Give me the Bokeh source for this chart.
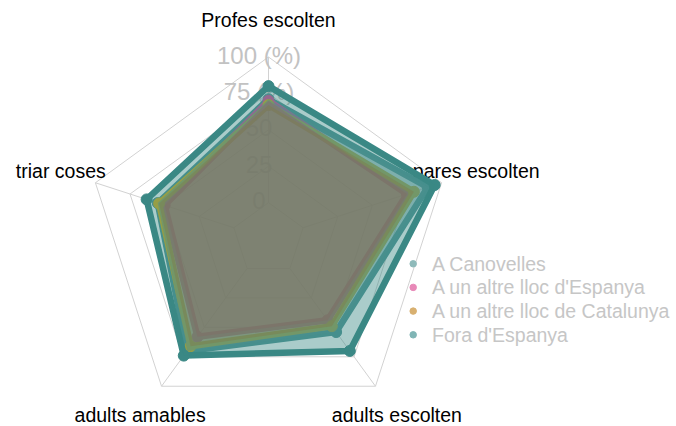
import numpy as np
from bokeh.plotting import figure
from bokeh.models import Range1d
from bokeh.core.properties import value
from bokeh.embed import file_html
from bokeh.resources import INLINE

# ---------------- data ----------------
axis_labels = ["Profes escolten", "pares escolten", "adults escolten",
               "adults amables", "triar coses"]
groups = ["A Canovelles", "A un altre lloc d'Espanya",
          "A un altre lloc de Catalunya", "Fora d'Espanya"]
canovelles = [71, 90, 54, 70, 55]
altre_espanya = [70, 75, 44, 58, 50]
altre_catalunya = [67, 80, 49, 66, 54]
fora_espanya = [80, 95, 70, 74, 63]
grid_values = [0, 25, 50, 75, 100]
grid_labels = ["0", "25", "50", "75 (%)", "100 (%)"]

series = [canovelles, altre_espanya, altre_catalunya, fora_espanya]

# ---------------- style ----------------
W, H = 676, 426
line_colors = ["#4f9494", "#dc5096", "#dcae18", "#3a8885"]
fill_colors = ["#5a9595", "#b94178", "#af7328", "#3a8885"]
fill_alphas = [0.48, 0.5, 0.5, 0.43]
legend_colors = ["#8fbaba", "#e889b8", "#d8b070", "#80b5b5"]
FONT = "Liberation Sans"

CX, CY, R = 268.0, 238.5, 182.0
CENTRE, GMAX = -25.0, 100.0
LABEL_R = 1.2 * R
n = len(axis_labels)
theta = np.pi / 2 - np.arange(n) * 2 * np.pi / n


def rad(v):
    return (np.asarray(v, dtype=float) - CENTRE) / (GMAX - CENTRE) * R


def to_xy(vals):
    r = rad(vals)
    return CX + r * np.cos(theta), CY - r * np.sin(theta)


p = figure(width=W, height=H, output_backend="svg", toolbar_location=None,
           x_range=Range1d(0, W), y_range=Range1d(H, 0),
           x_axis_location=None, y_axis_location=None, min_border=0,
           outline_line_color=None, background_fill_color="white")
p.grid.visible = False

GRID_COLOR = "#d2d2d2"
# grid pentagons
for g in grid_values:
    gx, gy = to_xy([g] * n)
    p.line(list(gx) + [gx[0]], list(gy) + [gy[0]], line_color=GRID_COLOR,
           line_width=1)
# spokes
x0, y0 = to_xy([grid_values[0]] * n)
x1, y1 = to_xy([grid_values[-1]] * n)
p.segment(x0, y0, x1, y1, line_color=GRID_COLOR, line_width=1)

# axis labels
lx = CX + LABEL_R * np.cos(theta)
ly = CY - LABEL_R * np.sin(theta) - 1
p.text(lx, ly, text=axis_labels, text_align="center", text_baseline="middle",
       text_font=value(FONT), text_font_size="19.5px", text_color="black")

# grid labels
glx = [CX - 9.5] * len(grid_values)
gly = list(CY - rad(grid_values) - 2)
p.text(glx, gly, text=grid_labels, text_align="center", text_baseline="middle",
       text_font=value(FONT), text_font_size="24px", text_color="#c2c2c2")

# group paths and points
for vals, lc in zip(series, line_colors):
    sx, sy = to_xy(vals)
    p.line(list(sx) + [sx[0]], list(sy) + [sy[0]], line_color=lc,
           line_width=6.5, line_join="round", line_cap="round")
    p.scatter(sx, sy, size=11, fill_color=lc, line_color=lc)

# group fills
for vals, fc, fa in zip(series, fill_colors, fill_alphas):
    sx, sy = to_xy(vals)
    p.patch(sx, sy, fill_color=fc, fill_alpha=fa, line_color=None)

# legend
leg_y = [263.3, 286.9, 310.6, 334.3]
p.scatter([412.7] * 4, leg_y, size=6.5, fill_color=legend_colors,
          line_color=legend_colors)
p.text([431.5] * 4, leg_y, text=groups, text_align="left",
       text_baseline="middle", text_font=value(FONT),
       text_font_size="19.5px", text_color="#c6c6c6")

open("out.html", "w").write(file_html(p, INLINE))
